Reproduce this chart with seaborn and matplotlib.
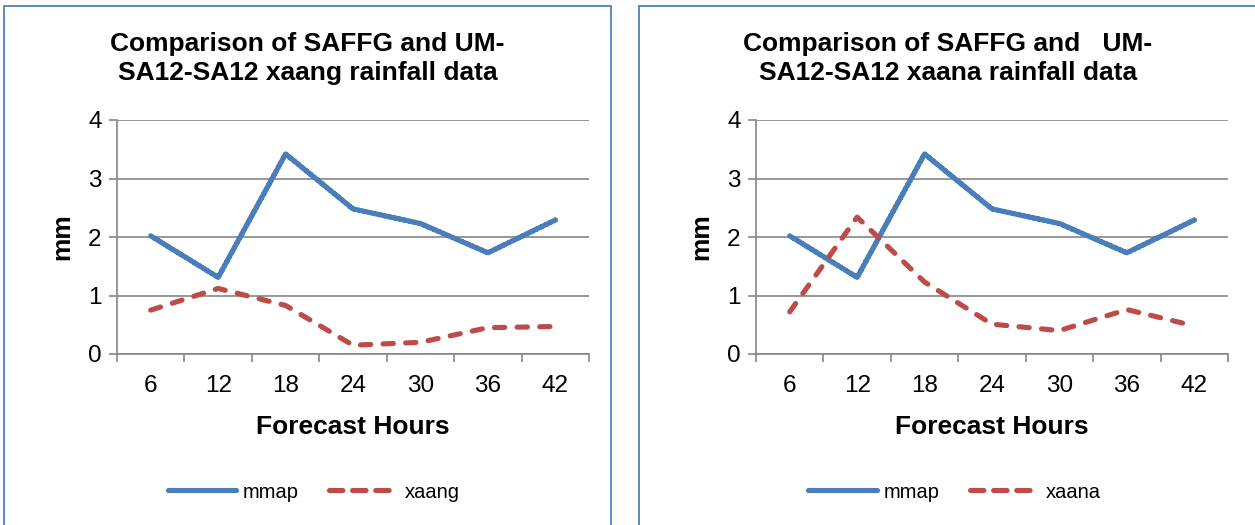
import matplotlib
matplotlib.use("Agg")
import matplotlib.pyplot as plt
import seaborn as sns
import pandas as pd
from matplotlib.patches import Rectangle
from matplotlib.lines import Line2D

hours = [6, 12, 18, 24, 30, 36, 42]
mmap = [2.02, 1.31, 3.42, 2.48, 2.23, 1.73, 2.29]
xaang = [0.75, 1.12, 0.83, 0.15, 0.20, 0.45, 0.47]
xaana = [0.72, 2.34, 1.23, 0.51, 0.40, 0.76, 0.48]
y_ticks = [0, 1, 2, 3, 4]

titles = [["Comparison of SAFFG and UM-", "SA12-SA12 xaang rainfall data"],
          ["Comparison of SAFFG and   UM-", "SA12-SA12 xaana rainfall data"]]
second_names = ["xaang", "xaana"]
second_values = [xaang, xaana]

sns.set_theme(style="white")
plt.rcParams['font.family'] = ['Liberation Sans', 'DejaVu Sans']
plt.rcParams['text.color'] = 'black'
plt.rcParams['axes.labelcolor'] = 'black'
plt.rcParams['xtick.color'] = 'black'
plt.rcParams['ytick.color'] = 'black'

W, H = 1255, 525
fig = plt.figure(figsize=(W / 100, H / 100), dpi=100)

BLUE = "#4A7EBB"
RED = "#BE4B48"
FRAME = "#4F81BD"
GRID = "#868686"
LW = 3.7
DASH = (2.0, 2.4)

frames = [(4, 611), (639, 1262)]
axes_left = [117, 756]
ax_w = 472
ax_bottom = 354
ax_top = 120

for i in range(2):
    fx0, fx1 = frames[i]
    fig.patches.append(Rectangle((fx0 / W, -0.05), (fx1 - fx0) / W, 1.05 - 6 / H,
                                 transform=fig.transFigure, fill=False,
                                 edgecolor=FRAME, linewidth=1.3, zorder=0))
    ax = fig.add_axes([axes_left[i] / W, 1 - ax_bottom / H, ax_w / W, (ax_bottom - ax_top) / H])
    df = pd.DataFrame({"hours": hours * 2,
                       "value": mmap + second_values[i],
                       "series": ["mmap"] * len(hours) + [second_names[i]] * len(hours)})
    sns.lineplot(data=df, x="hours", y="value", hue="series", style="series",
                 palette=[BLUE, RED], dashes=[(1, 0), DASH], linewidth=LW,
                 legend=False, ax=ax)
    for ln in ax.get_lines():
        ln.set_solid_capstyle("round")
        ln.set_dash_capstyle("round")
        ln.set_solid_joinstyle("miter")
    ax.set_xlim(3, 45)
    ax.set_ylim(0, 4)
    ax.set_yticks(y_ticks)
    ax.set_yticklabels([str(t) for t in y_ticks], fontsize=17.5)
    ax.set_xticks(hours)
    ax.set_xticklabels([str(h) for h in hours], fontsize=17.5)
    ax.set_xticks([3 + 6 * k for k in range(8)], minor=True)
    ax.tick_params(axis="x", which="major", length=0, pad=15)
    ax.tick_params(axis="x", which="minor", length=6, width=1.2, color=GRID, bottom=True)
    ax.tick_params(axis="y", which="major", length=6, width=1.2, color=GRID, left=True, pad=5)
    ax.grid(axis="y", color=GRID, linewidth=1.2)
    ax.grid(axis="x", visible=False)
    for s in ["top", "right"]:
        ax.spines[s].set_visible(False)
    for s in ["left", "bottom"]:
        ax.spines[s].set_color(GRID)
        ax.spines[s].set_linewidth(1.2)
    ax.set_xlabel("Forecast Hours", fontsize=19, fontweight="bold", labelpad=13)
    ax.set_ylabel("mm", fontsize=19, fontweight="bold", labelpad=10)

    cx = (fx0 + min(fx1, 1257)) / 2 / W
    fig.text(cx, 1 - 44 / H, titles[i][0], ha="center", va="center", fontsize=19,
             fontweight="bold")
    fig.text(cx, 1 - 73 / H, titles[i][1], ha="center", va="center", fontsize=19,
             fontweight="bold")

    handles = [Line2D([], [], color=BLUE, linewidth=LW, solid_capstyle="round"),
               Line2D([], [], color=RED, linewidth=LW, dashes=(2.6, 1.9), dash_capstyle="round")]
    fig.legend(handles, ["mmap", second_names[i]], loc="center",
               bbox_to_anchor=(cx + 0.005, 1 - 492 / H), ncol=2, frameon=False,
               fontsize=14.5, handlelength=3.4, handletextpad=0.35, columnspacing=1.5)

fig.savefig("out.png", dpi=100)
